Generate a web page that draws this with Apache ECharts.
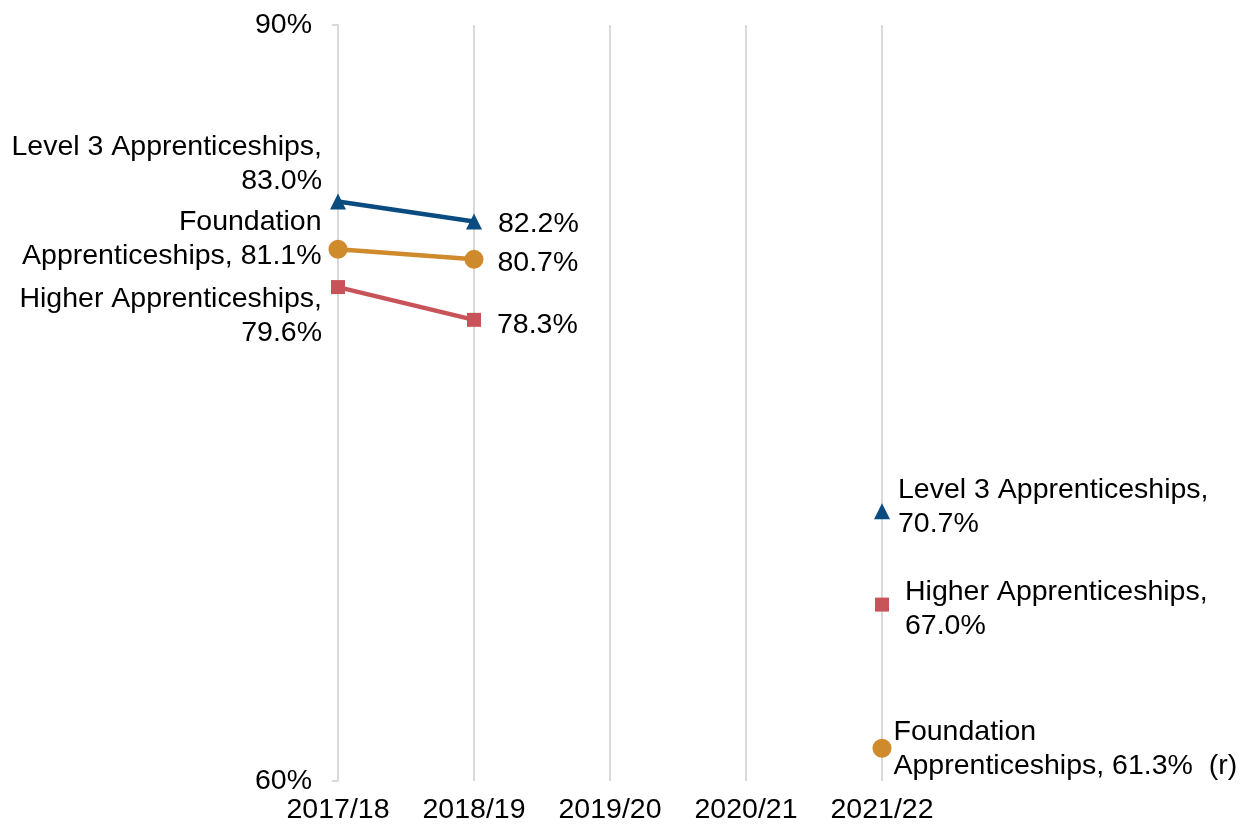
<!DOCTYPE html>
<html>
<head>
<meta charset="utf-8">
<script src="https://cdn.jsdelivr.net/npm/echarts@6/dist/echarts.min.js"></script>
<style>
  html, body { margin: 0; padding: 0; background: #fff; }
  #chart { width: 1247px; height: 829px; }
</style>
</head>
<body>
<div id="chart"></div>
<script>
var years = ['2017/18', '2018/19', '2019/20', '2020/21', '2021/22'];

var level3 = [83.0, 82.2, null, null, 70.7];
var foundation = [81.1, 80.7, null, null, 61.3];
var higher = [79.6, 78.3, null, null, 67.0];

var yTicks = [60, 90];

// label text for each point (null = value only)
var level3Text = ['Level 3 Apprenticeships,\n{v}', null, null, null, 'Level 3 Apprenticeships,\n{v}'];
var foundationText = ['Foundation\nApprenticeships, {v}', null, null, null, 'Foundation\nApprenticeships, {v}  (r)'];
var higherText = ['Higher Apprenticeships,\n{v}', null, null, null, 'Higher Apprenticeships,\n{v}'];

var FONT = 'Liberation Sans, Arial, sans-serif';
var FSIZE = 28.5;

function pointLabel(opts) {
    var lbl = {
        show: true,
        fontFamily: FONT,
        fontSize: FSIZE,
        lineHeight: 34,
        color: '#000'
    };
    for (var k in opts) lbl[k] = opts[k];
    return lbl;
}

function buildData(values, texts, labels) {
    var out = [];
    for (var i = 0; i < values.length; i++) {
        if (values[i] === null) { out.push(null); continue; }
        var t = texts[i] || '{v}';
        out.push({
            value: values[i],
            label: pointLabel(Object.assign({
                formatter: t.replace('{v}', values[i].toFixed(1) + '%')
            }, labels[i]))
        });
    }
    return out;
}

var level3Labels = [
    { position: 'left', align: 'right', distance: 8, offset: [0, -37] },
    { position: 'right', distance: 16, offset: [0, 3] },
    null, null,
    { position: 'right', distance: 8, offset: [0, -4], align: 'left' }
];
var foundationLabels = [
    { position: 'left', align: 'right', distance: 7, offset: [0, -10] },
    { position: 'right', distance: 14, offset: [0, 4] },
    null, null,
    { position: 'right', distance: 2, offset: [0, 1], align: 'left' }
];
var higherLabels = [
    { position: 'left', align: 'right', distance: 9, offset: [0, 29] },
    { position: 'right', distance: 16, offset: [0, 5] },
    null, null,
    { position: 'right', distance: 16, offset: [0, 5], align: 'left' }
];

var chart = echarts.init(document.getElementById('chart'));

chart.setOption({
    animation: false,
    backgroundColor: '#fff',
    grid: { left: 338, right: 365, top: 25, bottom: 48 },
    xAxis: {
        type: 'category',
        data: years,
        boundaryGap: false,
        axisLine: { show: false },
        axisTick: { show: false },
        axisLabel: { fontFamily: FONT, fontSize: FSIZE, color: '#000', margin: 15 },
        splitLine: { show: true, lineStyle: { color: '#d9d9d9', width: 2 } }
    },
    yAxis: {
        type: 'value',
        min: yTicks[0],
        max: yTicks[1],
        interval: yTicks[1] - yTicks[0],
        axisLine: { show: true, lineStyle: { color: '#d9d9d9', width: 2 } },
        axisTick: { show: true, length: 6, lineStyle: { color: '#d9d9d9', width: 2 } },
        splitLine: { show: false },
        axisLabel: {
            fontFamily: FONT, fontSize: FSIZE, color: '#000', margin: 26,
            formatter: '{value}%'
        }
    },
    series: [
        {
            name: 'Level 3 Apprenticeships',
            type: 'line',
            data: buildData(level3, level3Text, level3Labels),
            symbol: 'triangle',
            symbolSize: 16,
            itemStyle: { color: '#0b4c80' },
            lineStyle: { color: '#0b4c80', width: 4.5 }
        },
        {
            name: 'Foundation Apprenticeships',
            type: 'line',
            data: buildData(foundation, foundationText, foundationLabels),
            symbol: 'circle',
            symbolSize: 19,
            itemStyle: { color: '#cf8a2c' },
            lineStyle: { color: '#cf8a2c', width: 4.5 }
        },
        {
            name: 'Higher Apprenticeships',
            type: 'line',
            data: buildData(higher, higherText, higherLabels),
            symbol: 'rect',
            symbolSize: 14,
            itemStyle: { color: '#c8545a' },
            lineStyle: { color: '#c8545a', width: 4.5 }
        }
    ]
});
</script>
</body>
</html>
